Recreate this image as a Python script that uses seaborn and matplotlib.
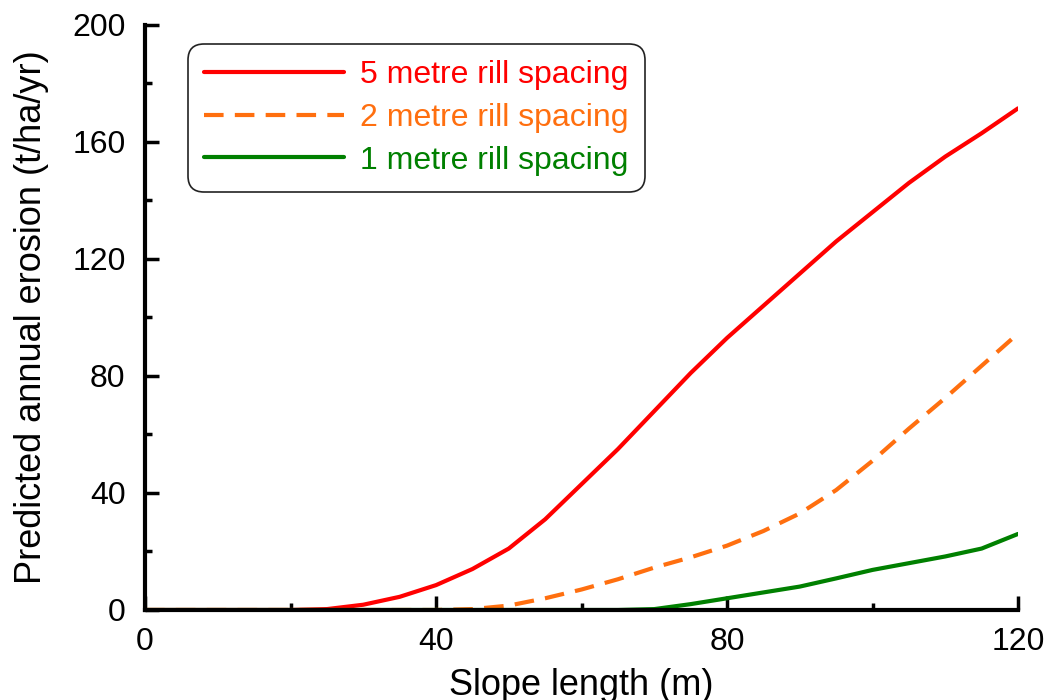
import matplotlib
matplotlib.use("Agg")
import matplotlib.pyplot as plt
import seaborn as sns
import pandas as pd
from matplotlib.ticker import MultipleLocator

# Slope length (m)
slope_length = [0, 5, 10, 15, 20, 25, 30, 35, 40, 45, 50, 55, 60,
                65, 70, 75, 80, 85, 90, 95, 100, 105, 110, 115, 120]

# Predicted annual erosion (t/ha/yr)
rill_5m = [0, 0, 0, 0, 0, 0.3, 1.8, 4.5, 8.5, 14, 21, 31, 43,
           55, 68, 81, 93, 104, 115, 126, 136, 146, 155, 163, 171.5]
rill_2m = [0, 0, 0, 0, 0, 0, 0, 0, 0, 0.3, 1.5, 4, 7,
           10.5, 14.5, 18, 22, 27, 33, 41, 51, 62, 72.5, 83.5, 94.5]
rill_1m = [0, 0, 0, 0, 0, 0, 0, 0, 0, 0, 0, 0, 0,
           0, 0.3, 2, 4, 6, 8, 10.8, 13.7, 16, 18.3, 21, 26]

labels = ["5 metre rill spacing", "2 metre rill spacing", "1 metre rill spacing"]
colors = ["#ff0000", "#ff6f0f", "#008000"]
styles = ["-", "--", "-"]

df = pd.DataFrame({"x": slope_length * 3,
                   "y": rill_5m + rill_2m + rill_1m,
                   "series": [labels[0]] * len(slope_length)
                   + [labels[1]] * len(slope_length)
                   + [labels[2]] * len(slope_length)})

sns.set_style("ticks")
plt.rcParams["font.family"] = ["Liberation Sans", "DejaVu Sans"]
plt.rcParams["text.color"] = "black"
plt.rcParams["axes.labelcolor"] = "black"

fig = plt.figure(figsize=(10.48, 7), dpi=100)
ax = fig.add_axes([0.1384, 0.1286, 0.8330, 0.8357])

for lab, col, ls in zip(labels, colors, styles):
    sub = df[df["series"] == lab]
    sns.lineplot(data=sub, x="x", y="y", ax=ax, color=col,
                 linewidth=3.0, label=lab)
    l = ax.get_lines()[-1]
    l.set_solid_joinstyle("round")
    l.set_dash_joinstyle("round")
    if ls == "--":
        l.set_linestyle((0, (4.7, 2.7)))

ax.set_xlim(0, 120)
ax.set_ylim(0, 200)
ax.xaxis.set_major_locator(MultipleLocator(40))
ax.xaxis.set_minor_locator(MultipleLocator(20))
ax.yaxis.set_major_locator(MultipleLocator(40))
ax.yaxis.set_minor_locator(MultipleLocator(20))

sns.despine(ax=ax)
for s in ["left", "bottom"]:
    ax.spines[s].set_linewidth(3)
    ax.spines[s].set_color("black")

ax.tick_params(which="major", direction="in", length=10, width=2.5, labelsize=23,
               color="black", labelcolor="black")
ax.tick_params(which="minor", direction="in", length=5, width=2.5, color="black")
ax.tick_params(axis="x", which="major", pad=12)
ax.tick_params(axis="y", which="major", pad=14)

ax.set_xlabel("Slope length (m)", fontsize=26, labelpad=8)
ax.set_ylabel("Predicted annual erosion (t/ha/yr)", fontsize=26, labelpad=17)

leg = ax.legend(loc="upper left", bbox_to_anchor=(0.049, 0.9675), borderaxespad=0,
                fontsize=23, handlelength=4.4, handletextpad=0.5, labelspacing=0.4,
                frameon=True, fancybox=True, borderpad=0.5)
frame = leg.get_frame()
frame.set_boxstyle("round,pad=0,rounding_size=0.5")
frame.set_edgecolor("#222222")
frame.set_linewidth(1.2)
frame.set_alpha(1)
for txt, col in zip(leg.get_texts(), colors):
    txt.set_color(col)
for h in leg.get_lines():
    h.set_linewidth(3.0)
leg.get_lines()[1].set_linestyle((0, (4.7, 2.7)))

fig.savefig("out.png", dpi=100)
